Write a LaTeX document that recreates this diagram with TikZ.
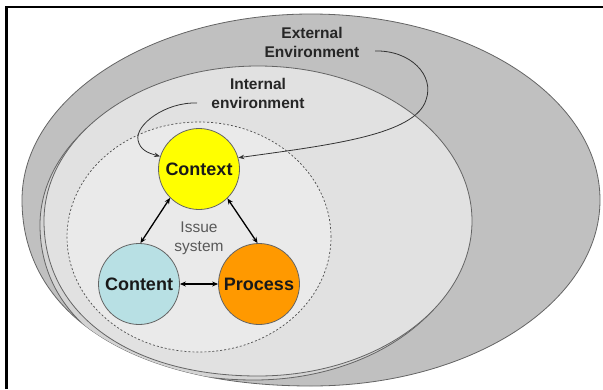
\documentclass[tikz,border=0pt]{standalone}
\usepackage{fontspec}
\setmainfont{Liberation Sans}
\usetikzlibrary{arrows.meta}
\definecolor{outerg}{RGB}{192,192,192}
\definecolor{innerg}{RGB}{225,225,225}
\definecolor{shadg}{RGB}{212,212,212}
\definecolor{issueg}{RGB}{234,234,234}
\definecolor{ctxy}{RGB}{255,255,0}
\definecolor{cntb}{RGB}{184,224,228}
\definecolor{prco}{RGB}{255,153,0}
\definecolor{edgeg}{RGB}{100,100,100}
\begin{document}
\begin{tikzpicture}[x=1pt,y=-1pt,
  ell/.style={draw=edgeg, line width=0.8pt},
  bubble/.style={circle, draw=edgeg, line width=0.8pt, minimum size=81pt, inner sep=0pt,
    font=\fontsize{18}{20}\selectfont\bfseries, text=black!90},
  lab/.style={font=\fontsize{15.5}{19}\selectfont\bfseries, align=center, text=black!85},
  issue/.style={font=\fontsize{15.5}{19}\selectfont, align=center, text=black!65},
  dbl/.style={{Stealth[length=6pt,width=5pt]}-{Stealth[length=6pt,width=5pt]}, line width=1.3pt},
  feed/.style={-{Stealth[length=6pt,width=4.5pt]}, line width=0.8pt, draw=black!80}]
\useasboundingbox (0,0) rectangle (603,389);
\fill[white] (0,0) rectangle (603,389);
% external environment (outer shape, fuller towards the lower left)
\def\outerpath{(22,200) .. controls (22,97.3) and (151.5,14) .. (311,14)
  .. controls (470.5,14) and (600,97.3) .. (600,200)
  .. controls (600,302.7) and (470.5,386) .. (311,386)
  .. controls (132,386) and (22,314) .. (22,200) -- cycle}
% internal environment shape
\def\innerpath{(44,221) .. controls (44,135.4) and (139.9,66) .. (258,66)
  .. controls (376.1,66) and (472,135.4) .. (472,221)
  .. controls (472,306.6) and (376.1,376) .. (258,376)
  .. controls (129.6,376) and (44,314) .. (44,221) -- cycle}
\filldraw[ell, fill=outerg] \outerpath;
% lower-left rim of the internal environment
\begin{scope}
  \clip \outerpath;
  \filldraw[ell, fill=shadg, xshift=-4pt, yshift=-4pt] \innerpath;
\end{scope}
\filldraw[ell, fill=innerg] \innerpath;
% issue system
\filldraw[fill=issueg, draw=black!70, line width=0.7pt, dash pattern=on 2pt off 2pt]
  (199,237) ellipse [x radius=132pt, y radius=115pt];
% frame
\draw[line width=2.5pt] (6.5,389) -- (6.5,7) -- (603,7);
% labels
\node[lab] (ext) at (312,42) {External\\Environment};
\node[lab] (int) at (258,93) {Internal\\environment};
\node[issue] (iss) at (199,238) {Issue\\system};
% bubbles
\node[bubble, fill=ctxy] (ctx) at (199,169) {Context};
\node[bubble, fill=cntb] (cnt) at (139,284) {Content};
\node[bubble, fill=prco] (prc) at (259,284) {Process};
% relations
\draw[dbl] (ctx.-135) -- (cnt.88);
\draw[dbl] (ctx.-46) -- (prc.92);
\draw[dbl] (cnt.east) -- (prc.west);
% influences
\coordinate (extS) at (375,51);
\coordinate (intS) at (197,103);
\draw[feed] (extS) .. controls (410,50) and (435,75) .. (426,100)
  .. controls (415,135) and (330,145) .. (ctx.16);
\draw[feed] (intS) .. controls (165,102) and (135,125) .. (138,140)
  .. controls (140,150) and (148,153) .. (ctx.162);
\end{tikzpicture}
\end{document}
